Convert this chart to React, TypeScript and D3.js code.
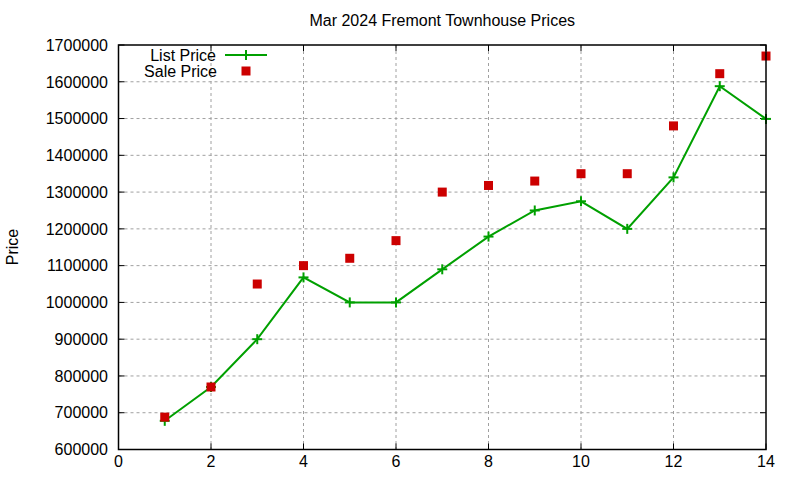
import { useMemo } from "react";
import * as d3 from "d3";

// Mar 2024 Fremont townhouse prices, by week index
const weeks = [1, 2, 3, 4, 5, 6, 7, 8, 9, 10, 11, 12, 13, 14];
const listPrice = [678000, 770000, 900000, 1068000, 1000000, 1000000, 1090000, 1179000, 1250000, 1275000, 1200000, 1340000, 1588000, 1499000];
const salePrice = [688000, 770000, 1050000, 1100000, 1120000, 1168000, 1300000, 1318000, 1330000, 1350000, 1350000, 1480000, 1622000, 1670000];
const xTicks = [0, 2, 4, 6, 8, 10, 12, 14];
const yTicks = [600000, 700000, 800000, 900000, 1000000, 1100000, 1200000, 1300000, 1400000, 1500000, 1600000, 1700000];

const W = 800, H = 480;
const left = 118.5, right = 766, top = 45, bottom = 449.5;
const green = "#00a000";
const red = "#cc0000";
const font = "'Liberation Sans', Arial, sans-serif";

export default function App() {
  const x = useMemo(() => d3.scaleLinear([0, 14], [left, right]), []);
  const y = useMemo(() => d3.scaleLinear([600000, 1700000], [bottom, top]), []);

  const line = d3.line<number>()
    .x((_, i) => x(weeks[i]))
    .y((d) => y(d));

  const tick = 6;
  const plus = (cx: number, cy: number, key: string) => (
    <g key={key} stroke={green} strokeWidth={2}>
      <line x1={cx - 5} x2={cx + 5} y1={cy} y2={cy} />
      <line x1={cx} x2={cx} y1={cy - 5} y2={cy + 5} />
    </g>
  );

  return (
    <div style={{ position: "fixed", left: 0, top: 0, width: W, height: H, background: "#fff" }}>
      <svg width={W} height={H} style={{ display: "block" }} fontFamily={font}>
        <rect width={W} height={H} fill="#fff" />

        {/* grid */}
        <g stroke="#a0a0a0" strokeWidth={1} strokeDasharray="3,3">
          {xTicks.slice(1, -1).map((t) => (
            <line key={"gx" + t} x1={x(t)} x2={x(t)} y1={top} y2={bottom} />
          ))}
          {yTicks.slice(1, -1).map((t) => (
            <line key={"gy" + t} x1={left} x2={right} y1={y(t)} y2={y(t)} />
          ))}
        </g>

        {/* ticks, mirrored */}
        <g stroke="#000" strokeWidth={1}>
          {xTicks.map((t) => (
            <g key={"tx" + t}>
              <line x1={x(t)} x2={x(t)} y1={bottom} y2={bottom - tick} />
              <line x1={x(t)} x2={x(t)} y1={top} y2={top + tick} />
            </g>
          ))}
          {yTicks.map((t) => (
            <g key={"ty" + t}>
              <line x1={left} x2={left + tick} y1={y(t)} y2={y(t)} />
              <line x1={right} x2={right - tick} y1={y(t)} y2={y(t)} />
            </g>
          ))}
        </g>

        {/* labels */}
        <g fontSize={16} fill="#000">
          {xTicks.map((t) => (
            <text key={"lx" + t} x={x(t)} y={467} textAnchor="middle">{t}</text>
          ))}
          {yTicks.map((t) => (
            <text key={"ly" + t} x={108} y={y(t)} dy="0.36em" textAnchor="end">{t}</text>
          ))}
          <text x={(left + right) / 2} y={26} textAnchor="middle">Mar 2024 Fremont Townhouse Prices</text>
          <text transform="translate(18,247) rotate(-90)" textAnchor="middle">Price</text>
        </g>

        {/* list price */}
        <path d={line(listPrice) ?? ""} fill="none" stroke={green} strokeWidth={2} />
        {listPrice.map((v, i) => plus(x(weeks[i]), y(v), "lp" + i))}

        {/* sale price */}
        {salePrice.map((v, i) => (
          <rect key={"sp" + i} x={x(weeks[i]) - 4.5} y={y(v) - 4.5} width={9} height={9} fill={red} />
        ))}

        {/* legend */}
        <g fontSize={16}>
          <text x={216} y={55} dy="0.36em" textAnchor="end">List Price</text>
          <line x1={225} x2={267} y1={55} y2={55} stroke={green} strokeWidth={2} />
          {plus(246, 55, "leg-plus")}
          <text x={217} y={71} dy="0.36em" textAnchor="end">Sale Price</text>
          <rect x={241.5} y={66.5} width={9} height={9} fill={red} />
        </g>

        {/* frame */}
        <rect x={left} y={top} width={right - left} height={bottom - top} fill="none" stroke="#000" strokeWidth={1.5} />
      </svg>
    </div>
  );
}
